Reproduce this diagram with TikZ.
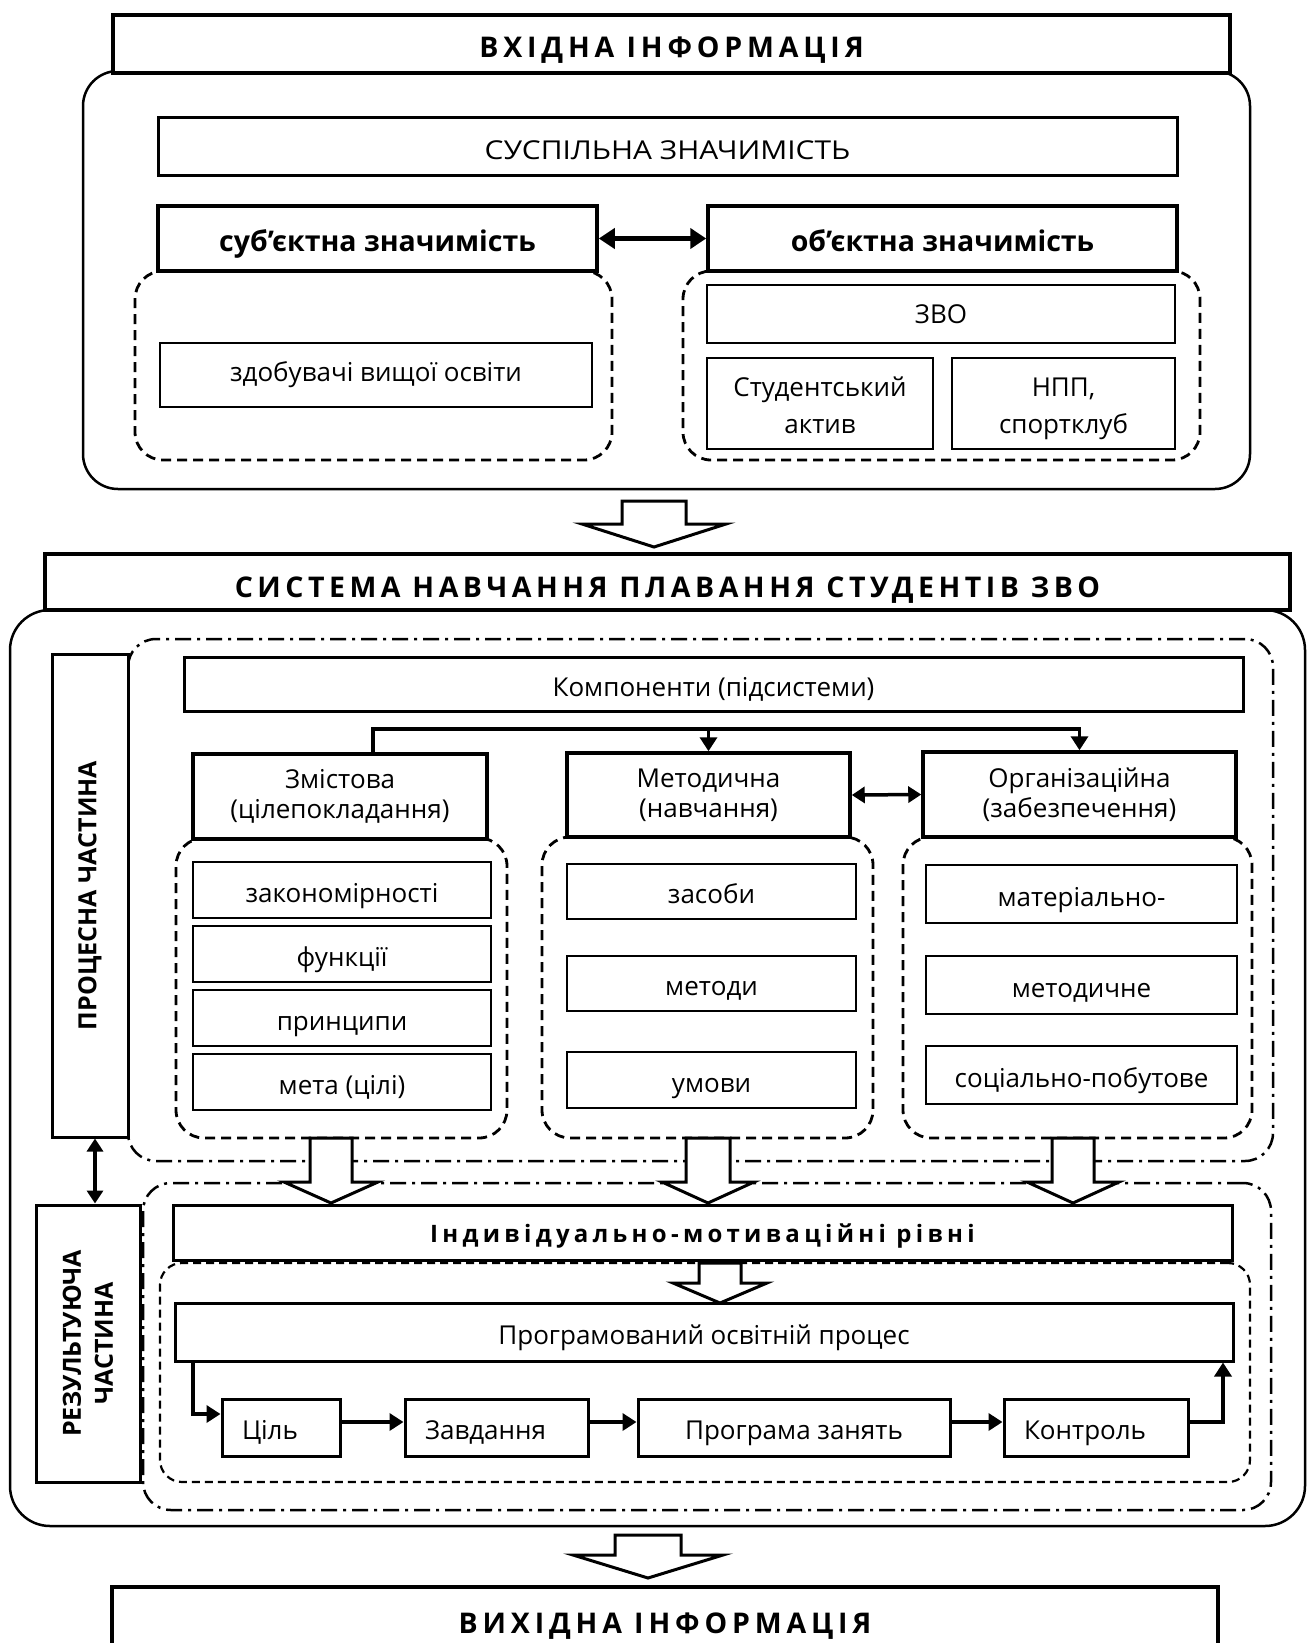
\documentclass[tikz,border=0pt]{standalone}
\usepackage{fontspec}
\setmainfont{Open Sans}
\newfontfamily\titlefont{Open Sans}[LetterSpace=17]
\newfontfamily\titlefontb{Open Sans}[LetterSpace=15.8]
\newfontfamily\widefont{Open Sans}[LetterSpace=18]
\newfontfamily\capsfont{Open Sans}[FakeStretch=1.15]
\usetikzlibrary{arrows.meta,calc}
\newcommand{\bx}[6]{\node[#6, minimum width={(#4)-(#2)}, minimum height={(#5)-(#3)}] (#1) at ({((#2)+(#4))/2},{((#3)+(#5))/2})}
\newcommand{\blkarrow}[6]{\draw[blk] ({#1-#5},#2) -- ({#1+#5},#2) -- ({#1+#5},#3) -- ({#1+#6},#3) -- (#1,#4) -- ({#1-#6},#3) -- ({#1-#5},#3) -- cycle;}
\tikzset{
 bx/.style={draw, fill=white, inner sep=0pt, align=center, font=\fontsize{26}{30}\selectfont},
 sl/.style={text height=#1, text depth=0pt},
 sl/.default=25pt,
 thickbx/.style={bx, line width=4pt},
 medbx/.style={bx, line width=3pt},
 thinbx/.style={bx, line width=1.3pt},
 hdrbx/.style={bx, line width=3.5pt},
 boldhdr/.style={hdrbx, sl=26pt, font=\fontsize{28.5}{32}\selectfont\bfseries},
 titlebx/.style={bx, line width=4pt, sl=28pt, font=\fontsize{28.5}{32}\selectfont\titlefont\bfseries},
 dashbx/.style={draw, line width=2.8pt, dash pattern=on 10pt off 6pt, rounded corners=28pt, inner sep=0pt},
 dashbxb/.style={draw, line width=2.2pt, dash pattern=on 8pt off 5pt, rounded corners=22pt, inner sep=0pt},
 dashdotbx/.style={draw, line width=2.5pt, dash pattern=on 16pt off 6pt on 3pt off 6pt, rounded corners=28pt, inner sep=0pt},
 roundbx/.style={draw, line width=2.5pt, rounded corners=35pt, inner sep=0pt},
 conn/.style={line width=3.8pt, -{Triangle[length=14pt,width=17pt]}},
 dbl/.style={line width=4.5pt, {Triangle[length=16pt,width=20pt]}-{Triangle[length=16pt,width=20pt]}},
 dblb/.style={line width=3.5pt, {Triangle[length=13pt,width=16pt]}-{Triangle[length=13pt,width=16pt]}},
 blk/.style={draw, fill=white, line width=3pt, line join=miter},
 leftbx/.style={align=left, inner xsep=20pt, text width=#1},
 twoline/.style={font=\fontsize{26}{37}\selectfont, text height=60pt, text depth=0pt},
 rottext/.style={rotate=90, align=center, inner sep=0pt, font=\fontsize{25}{32}\selectfont\bfseries},
}
\begin{document}
\begin{tikzpicture}[x=1pt,y=-1pt]
\fill[white] (0,0) rectangle (1308,1643);
\useasboundingbox (0,0) rectangle (1308,1643);

% ---------- input block ----------
\bx{outerA}{83}{71}{1250}{489}{roundbx} {};
\bx{inTitle}{113}{15}{1230}{73}{titlebx} {ВХІДНА ІНФОРМАЦІЯ};
\bx{social}{158}{118}{1177}{175}{medbx, sl, font=\fontsize{26}{30}\selectfont\capsfont} {СУСПІЛЬНА ЗНАЧИМІСТЬ};
\bx{subjD}{135}{271}{612}{460}{dashbx} {};
\bx{objD}{683}{271}{1200}{460}{dashbx} {};
\bx{subj}{158}{206}{597}{271}{boldhdr} {суб’єктна значимість};
\bx{obj}{708}{206}{1177}{271}{boldhdr} {об’єктна значимість};
\draw[dbl] (subj.east) -- (obj.west);
\bx{students}{160}{343}{592}{407}{thinbx} {здобувачі вищої освіти};
\bx{zvo}{707}{285}{1175}{343}{thinbx} {ЗВО};
\bx{active}{707}{358}{933}{449}{thinbx, twoline} {Студентський\\актив};
\bx{npp}{952}{358}{1175}{449}{thinbx, twoline} {НПП,\\спортклуб};

\blkarrow{654}{501}{524}{547}{32}{72}

% ---------- system block ----------
\bx{outerB}{10}{610}{1305}{1526}{roundbx, rounded corners=40pt} {};
\bx{sysTitle}{45}{554}{1290}{610}{titlebx, sl=30pt, font=\fontsize{28.5}{32}\selectfont\titlefontb\bfseries} {СИСТЕМА НАВЧАННЯ ПЛАВАННЯ СТУДЕНТІВ ЗВО};
\bx{procD}{128}{639}{1273}{1161}{dashdotbx} {};
\bx{proc}{52}{654}{128}{1137}{medbx} {};
\node[rottext] (procT) at (proc.center) {ПРОЦЕСНА ЧАСТИНА};
\bx{comp}{184}{657}{1243}{711}{medbx, sl} {Компоненти (підсистеми)};

\bx{zmD}{176}{838}{507}{1138}{dashbx} {};
\bx{metD}{542}{837}{873}{1138}{dashbx} {};
\bx{orgD}{903}{837}{1252}{1138}{dashbx} {};

\bx{zm}{193}{754}{487}{839}{hdrbx} {Змістова\\(цілепокладання)};
\bx{met}{567}{753}{850}{837}{hdrbx} {Методична\\(навчання)};
\bx{org}{923}{752}{1236}{837}{hdrbx} {Організаційна\\(забезпечення)};

\coordinate (k1) at (373,729);
\draw[conn] (zm.north -| k1) |- (org.north |- k1) -- (org.north);
\draw[conn] (met.north |- k1) -- (met.north);
\draw[dblb] (met.east) -- (org.west);

\bx{zm1}{193}{862}{491}{918}{thinbx, sl=24pt} {закономірності};
\bx{zm2}{193}{926}{491}{982}{thinbx, sl=24pt} {функції};
\bx{zm3}{193}{990}{491}{1046}{thinbx, sl=24pt} {принципи};
\bx{zm4}{193}{1054}{491}{1110}{thinbx, sl=24pt} {мета (цілі)};

\bx{met1}{567}{864}{856}{919}{thinbx, sl=24pt} {засоби};
\bx{met2}{567}{956}{856}{1011}{thinbx, sl=24pt} {методи};
\bx{met3}{567}{1052}{856}{1108}{thinbx, sl=24pt} {умови};

\bx{org1}{926}{865}{1237}{923}{thinbx, sl=24pt} {матеріально-};
\bx{org2}{926}{956}{1237}{1014}{thinbx, sl=24pt} {методичне};
\bx{org3}{926}{1046}{1237}{1104}{thinbx, sl=24pt} {соціально-побутове};

% ---------- resulting part ----------
\bx{resD}{143}{1183}{1271}{1510}{dashdotbx} {};
\bx{rez}{36}{1205}{140}{1482}{medbx} {};
\node[rottext] (rezT) at (rez.center) {РЕЗУЛЬТУЮЧА\\ЧАСТИНА};
\coordinate (v1) at (95,0);
\draw[dblb] (proc.south -| v1) -- (rez.north -| v1);

\blkarrow{331}{1138}{1182}{1203}{21}{47}
\blkarrow{708}{1138}{1182}{1203}{22}{46}
\blkarrow{1073}{1138}{1182}{1203}{21}{46}

\bx{progD}{160}{1263}{1250}{1482}{dashbxb} {};
\bx{indiv}{173}{1205}{1232}{1260}{medbx, sl=19pt, font=\fontsize{24}{28}\selectfont\widefont\bfseries} {Індивідуально-мотиваційні рівні};
\blkarrow{720}{1263}{1283}{1303}{21}{47}
\bx{prog}{175}{1303}{1233}{1361}{medbx, sl} {Програмований освітній процес};

\bx{goal}{222}{1399}{340}{1456}{medbx, sl=24pt, leftbx=78pt} {Ціль};
\bx{task}{405}{1399}{588}{1456}{medbx, sl=24pt, leftbx=143pt} {Завдання};
\bx{plan}{638}{1399}{950}{1456}{medbx, sl=24pt} {Програма занять};
\bx{ctrl}{1004}{1399}{1188}{1456}{medbx, sl=24pt, leftbx=144pt} {Контроль};

\coordinate (l1) at (193,1414);
\coordinate (h1) at (0,1422);
\draw[conn] (prog.south -| l1) |- (goal.west |- l1);
\draw[conn] (goal.east |- h1) -- (task.west |- h1);
\draw[conn] (task.east |- h1) -- (plan.west |- h1);
\draw[conn] (plan.east |- h1) -- (ctrl.west |- h1);
\coordinate (r1) at (1223,0);
\draw[conn] (ctrl.east |- h1) -| (prog.south -| r1);

% ---------- output ----------
\blkarrow{648}{1535}{1555}{1578}{33}{75}
\bx{outTitle}{112}{1587}{1218}{1652}{titlebx} {ВИХІДНА ІНФОРМАЦІЯ};
\end{tikzpicture}
\end{document}
